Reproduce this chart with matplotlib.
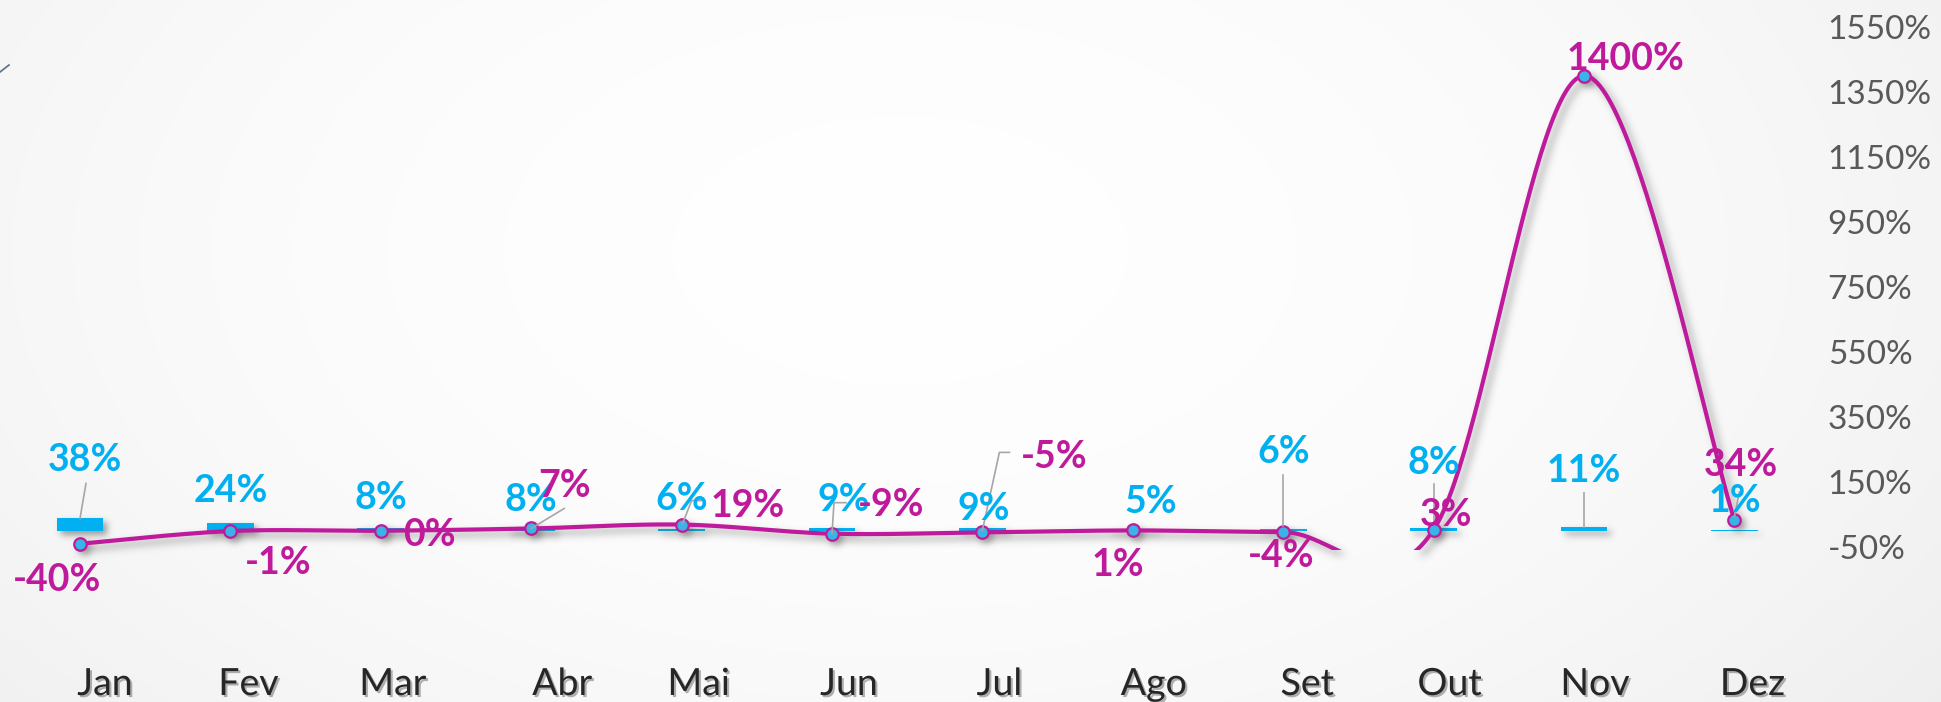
import numpy as np
import matplotlib
matplotlib.use("Agg")
import matplotlib.pyplot as plt
import matplotlib.patheffects as pe
from matplotlib import transforms
from matplotlib.lines import Line2D

# ---- data -------------------------------------------------------------
months = ["Jan", "Fev", "Mar", "Abr", "Mai", "Jun",
          "Jul", "Ago", "Set", "Out", "Nov", "Dez"]
bar_pct = [38, 24, 8, 8, 6, 9, 9, 5, 6, 8, 11, 1]
line_pct = [-40, -1, 0, 7, 19, -9, -5, 1, -4, 3, 1400, 34]
axis_ticks = list(range(-50, 1551, 200))

# ---- styling ----------------------------------------------------------
CYAN = "#00B0F0"
MAGENTA = "#BF1A9C"
MARKER_FACE = "#3AB4E6"
LEADER = "#A6A6A6"
LABEL_FONT = ["Lato", "DejaVu Sans"]

# label offsets in pixels (right, down) from the data point (glyph centre)
line_label_off = [(-23, 34), (48, 29), (49, 2), (33, -45), (66, -21), (59, -31),
                  (72, -78), (-15, 32), (-2, 21), (12, -17), (42, -19), (7, -57)]
bar_label_off = [(5, -61), (0, -34), (0, -33), (0, -31), (0, -32), (12, -30),
                 (1, -21), (18, -30), (0, -79), (0, -68), (0, -59), (0, -32)]
month_label_dx = [25, 18, 12, 31, 17, 17, 17, 21, 24, 16, 11, 18]

# leader lines: (index, anchored on 'bar' or 'line', vertices in px right/down)
leaders = [
    (0, "bar", [(6, -35), (0, 0)]),
    (3, "line", [(33, -20), (0, 0)]),
    (4, "line", [(20, -24), (10, -24), (1, -1)]),
    (5, "line", [(14, -31), (2, -31), (0, 0)]),
    (6, "line", [(27, -80), (17, -80), (0, -2)]),
    (8, "bar", [(0, -54), (0, -3)]),
    (9, "bar", [(0, -44), (0, -3)]),
    (10, "bar", [(0, -34), (0, 0)]),
    (11, "line", [(5, -28), (0, -3)]),
]

W, H, DPI = 1941, 702, 100


# ---- soft drop shadow filter -----------------------------------------
def _blur(a, sigma):
    r = max(1, int(3 * sigma))
    k = np.exp(-0.5 * (np.arange(-r, r + 1) / sigma) ** 2)
    k /= k.sum()
    a = np.apply_along_axis(lambda m: np.convolve(m, k, mode="same"), 0, a)
    a = np.apply_along_axis(lambda m: np.convolve(m, k, mode="same"), 1, a)
    return a


class DropShadow:
    def __init__(self, sigma=4.0, alpha=0.35, offset=(4, 4), color=(0.3, 0.3, 0.3)):
        self.sigma, self.alpha, self.offset, self.color = sigma, alpha, offset, color

    def __call__(self, im, dpi):
        pad = int(3 * self.sigma + max(self.offset)) + 2
        src = np.pad(im, [(pad, pad), (pad, pad), (0, 0)], "constant")
        out = np.zeros_like(src)
        out[:, :, :3] = self.color
        out[:, :, 3] = np.clip(_blur(src[:, :, 3], self.sigma) * self.alpha, 0, 1)
        out = np.roll(out, self.offset[0], axis=1)
        out = np.roll(out, self.offset[1], axis=0)
        return out, -pad, -pad


def smooth_curve(y, n=60):
    """Bezier smoothing through the points (cardinal spline)."""
    x = np.arange(len(y), dtype=float)
    P = np.column_stack([x, np.asarray(y, float)])
    ext = np.vstack([P[0], P, P[-1]])
    t = np.linspace(0, 1, n)[:, None]
    pieces = []
    for i in range(len(P) - 1):
        p0, p1, p2, p3 = ext[i], ext[i + 1], ext[i + 2], ext[i + 3]
        c1 = p1 + (p2 - p0) / 6
        c2 = p2 - (p3 - p1) / 6
        seg = (1 - t) ** 3 * p1 + 3 * (1 - t) ** 2 * t * c1 + 3 * (1 - t) * t ** 2 * c2 + t ** 3 * p2
        pieces.append(seg if i == 0 else seg[1:])
    return np.vstack(pieces)


# ---- figure -----------------------------------------------------------
fig = plt.figure(figsize=(W / DPI, H / DPI), dpi=DPI)

# soft radial background
bg = fig.add_axes([0, 0, 1, 1], zorder=-5)
yy, xx = np.mgrid[0:H, 0:W]
d = np.sqrt(((xx - 900) / 1100) ** 2 + ((yy - 250) / 650) ** 2)
shade = 0.998 - 0.045 * np.clip(d, 0, 1.3) ** 2
bg.imshow(np.dstack([shade] * 3), extent=[0, 1, 0, 1], aspect="auto", interpolation="bilinear")
bg.axis("off")

# plot area: x categories every 150.4 px, secondary scale 0.325 px per percent
ax = fig.add_axes([4.8 / W, 1 - 550 / H, 1804.8 / W, 526 / H])
ax.set_facecolor("none")
for s in ax.spines.values():
    s.set_visible(False)
x = np.arange(len(months))
ax.set_xlim(-0.5, 11.5)
ax.set_ylim(-59.23, 1559.23)
ax.set_xticks([])

ax.yaxis.tick_right()
ax.set_yticks(axis_ticks, labels=[f"{v}%" for v in axis_ticks])
ax.tick_params(axis="y", length=0, pad=13, labelsize=24, labelcolor="#595959")
for lbl in ax.get_yticklabels():
    lbl.set_fontfamily(LABEL_FONT)
    lbl.set_fontweight("normal")

# bars (with shadows)
bw = 0.31
shadow_bars = ax.bar(x, bar_pct, width=bw, color="#444444", zorder=2)
for r in shadow_bars:
    r.set_agg_filter(DropShadow(sigma=3.5, alpha=0.55, offset=(4, 4)))
ax.bar(x, bar_pct, width=bw, color=CYAN, zorder=3)

# smoothed line with markers (with shadow)
curve = smooth_curve(line_pct)
sh = Line2D(curve[:, 0], curve[:, 1], color="#444444", lw=3.0, zorder=4)
ax.add_line(sh)
sh.set_agg_filter(DropShadow(sigma=4.0, alpha=0.5, offset=(5, 5)))
shm = ax.plot(x, line_pct, ls="none", marker="o", ms=9, color="#444444", zorder=4)[0]
shm.set_agg_filter(DropShadow(sigma=3.5, alpha=0.45, offset=(4, 4)))

ax.plot(curve[:, 0], curve[:, 1], color=MAGENTA, lw=3.0, zorder=5, solid_capstyle="round")
ax.plot(x, line_pct, ls="none", marker="o", ms=9, mfc=MARKER_FACE, mec=MAGENTA,
        mew=1.6, zorder=6, clip_on=False)

# leader lines
for i, which, verts in leaders:
    yv = bar_pct[i] if which == "bar" else line_pct[i]
    tr = transforms.IdentityTransform() + transforms.ScaledTranslation(x[i], yv, ax.transData)
    vx = [v[0] for v in verts]
    vy = [-v[1] for v in verts]
    ax.add_line(Line2D(vx, vy, transform=tr, color=LEADER, lw=1.2, zorder=7, clip_on=False))

CAP = 13.5  # half glyph height in px, centre -> baseline

# bar value labels
for i, v in enumerate(bar_pct):
    dx, dy = bar_label_off[i]
    ax.annotate(f"{v}%", xy=(x[i], v), xytext=(dx, -(dy + CAP)), textcoords="offset pixels",
                ha="center", va="baseline", color=CYAN, fontsize=27, fontweight="bold",
                family=LABEL_FONT, zorder=8, annotation_clip=False)

# line value labels
for i, v in enumerate(line_pct):
    dx, dy = line_label_off[i]
    ax.annotate(f"{v}%", xy=(x[i], v), xytext=(dx, -(dy + CAP)), textcoords="offset pixels",
                ha="center", va="baseline", color=MAGENTA, fontsize=27, fontweight="bold",
                family=LABEL_FONT, zorder=9, annotation_clip=False)

# month labels
for i, m in enumerate(months):
    ax.annotate(m, xy=(x[i], ax.get_ylim()[0]), xytext=(month_label_dx[i], -145),
                textcoords="offset pixels", ha="center", va="baseline", color="#262626",
                fontsize=27, family=LABEL_FONT, annotation_clip=False,
                path_effects=[pe.withSimplePatchShadow(offset=(1.5, -1.5),
                                                       shadow_rgbFace="#555555", alpha=0.45)])

# small stroke at the upper-left edge
fig.add_artist(Line2D([0, 9 / W], [1 - 72 / H, 1 - 65 / H], transform=fig.transFigure,
                      color="#5B7083", lw=1.2))

fig.savefig("out.png", dpi=DPI)
